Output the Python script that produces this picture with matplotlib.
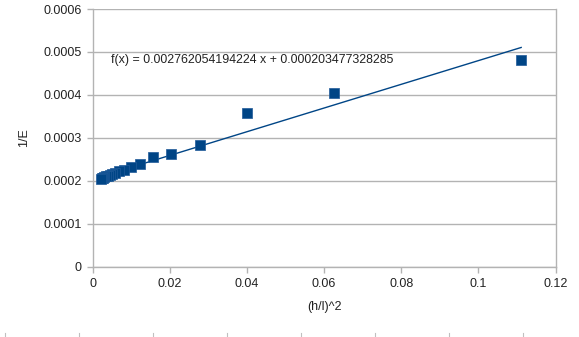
import numpy as np
import matplotlib
matplotlib.use("Agg")
import matplotlib.pyplot as plt
from matplotlib.lines import Line2D

plt.rcParams["font.family"] = ["Liberation Sans", "DejaVu Sans"]

# (h/l)^2 and 1/E
x_vals = [0.1111, 0.0625, 0.0400, 0.0278, 0.0204, 0.0156, 0.0123, 0.0100,
          0.00826, 0.00694, 0.00592, 0.00510, 0.00444, 0.00391, 0.00346,
          0.00309, 0.00277, 0.00250, 0.00227]
y_vals = [0.000480, 0.000405, 0.000357, 0.000283, 0.000262, 0.000255,
          0.000240, 0.000232, 0.000226, 0.000222, 0.000219, 0.000216,
          0.000214, 0.000212, 0.000210, 0.000209, 0.000207, 0.000206,
          0.000205]
slope = 0.002762054194224
intercept = 0.000203477328285

x_ticks = [0, 0.02, 0.04, 0.06, 0.08, 0.1, 0.12]
x_ticklabels = ["0", "0.02", "0.04", "0.06", "0.08", "0.1", "0.12"]
y_ticks = [0, 0.0001, 0.0002, 0.0003, 0.0004, 0.0005, 0.0006]
y_ticklabels = ["0", "0.0001", "0.0002", "0.0003", "0.0004", "0.0005", "0.0006"]

blue = "#004586"
grid_c = "#b3b3b3"

fig = plt.figure(figsize=(5.79, 3.37), dpi=100)
ax = fig.add_axes([92.5 / 579, 70.5 / 337, 463 / 579, 257.5 / 337])

# trend line over data range
xs = np.array([min(x_vals), max(x_vals)])
ax.plot(xs, slope * xs + intercept, color=blue, linewidth=1.0, zorder=3)
ax.scatter(x_vals, y_vals, marker="s", s=52, color=blue, edgecolors="#1f5a99",
           linewidths=0.5, zorder=4)

ax.set_xlim(0, 0.12)
ax.set_ylim(0, 0.0006)
ax.set_xticks(x_ticks)
ax.set_xticklabels(x_ticklabels)
ax.set_yticks(y_ticks)
ax.set_yticklabels(y_ticklabels)
ax.yaxis.grid(True, color=grid_c, linewidth=1.0)
ax.set_axisbelow(True)
for s in ax.spines.values():
    s.set_color(grid_c)
    s.set_linewidth(1.0)
ax.spines["top"].set_visible(False)
ax.tick_params(axis="both", colors=grid_c, labelcolor="#222222", labelsize=9,
               length=4, width=1.0, pad=4)

ax.set_xlabel("(h/l)^2", fontsize=9, color="#222222", labelpad=8)
ax.set_ylabel("1/E", fontsize=9, color="#222222", labelpad=9)

ax.text(0.0047, 0.000482,
        f"f(x) = {slope:.15f} x + {intercept:.15f}",
        fontsize=8.9, color="#222222", va="center", ha="left")

# faint spreadsheet cell marks along the bottom edge
for px in [5, 79, 153, 227, 301, 375, 449, 523]:
    fig.add_artist(Line2D([px / 579, px / 579], [0, 4 / 337],
                          color="#c0c0c0", linewidth=0.8))

fig.savefig("out.png", dpi=100, facecolor="white")
